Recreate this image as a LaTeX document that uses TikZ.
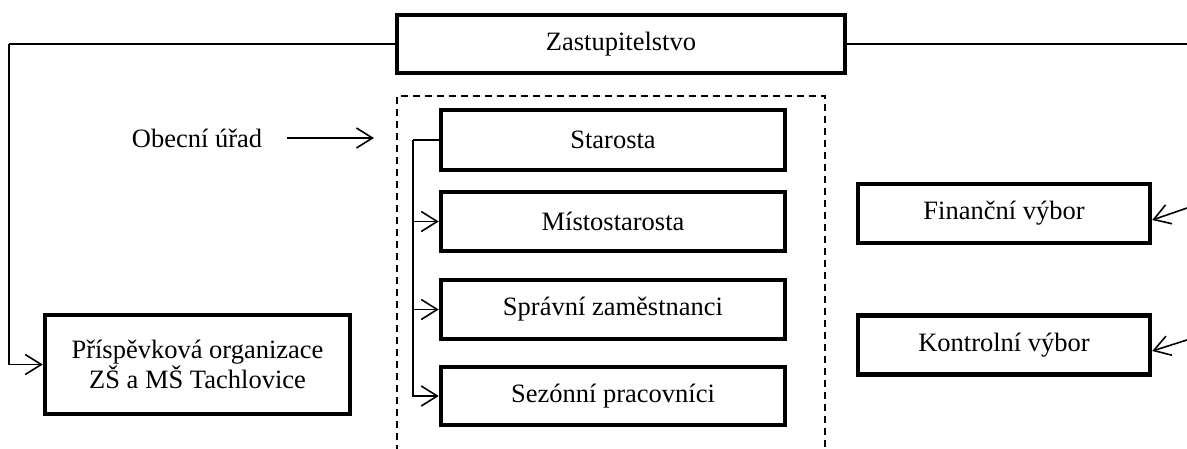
\documentclass[tikz,border=0pt]{standalone}
\usepackage{fontspec}
\setmainfont{Liberation Serif}
\usetikzlibrary{arrows.meta}
\begin{document}
\begin{tikzpicture}[x=1pt,y=-1pt,
  box/.style={draw,line width=4.5pt,rectangle,inner sep=0pt,align=center,font=\fontsize{26.5}{30}\selectfont},
  conn/.style={line width=1.6pt},
  arr/.style={conn,-{Straight Barb[length=16pt,width=20pt,line width=1.6pt]}},
  lbl/.style={font=\fontsize{26.5}{30}\selectfont,inner sep=0pt}]
\useasboundingbox (0,0) rectangle (1187,448);
% dashed frame of the municipal office
\draw[line width=2pt,dash pattern=on 7pt off 5pt] (397,452) -- (397,96) -- (825,96) -- (825,452);
\node[box,minimum width=448pt,minimum height=58pt] (zast) at (621,44) {Zastupitelstvo};
\node[box,minimum width=344pt,minimum height=60pt] (staro) at (613,140) {Starosta};
\node[box,minimum width=344pt,minimum height=59pt] (misto) at (613,221.5) {Místostarosta};
\node[box,minimum width=344pt,minimum height=59pt] (sprav) at (613,309.5) {Správní zaměstnanci};
\node[box,minimum width=344pt,minimum height=58pt] (sezon) at (613,396) {Sezónní pracovníci};
\node[box,minimum width=305pt,minimum height=99pt] (prisp) at (197.5,364.5) {Příspěvková organizace\\ZŠ a MŠ Tachlovice};
\node[box,minimum width=292pt,minimum height=59pt] (fin) at (1004,213.5) {Finanční výbor};
\node[box,minimum width=292pt,minimum height=59pt] (kon) at (1004,345) {Kontrolní výbor};
\node[lbl] (urad) at (197,138) {Obecní úřad};
\coordinate (L) at (9,44);
\coordinate (R) at (1190,44);
\coordinate (rf) at (1190,207);
\coordinate (rk) at (1190,339);
\coordinate (ua) at (287,138);
\coordinate (ub) at (374,138);
\coordinate (bus) at (413,140);
% connectors
\draw[conn] (zast.west) -- (L);
\draw[arr] (L) |- (prisp.west);
\draw[conn] (zast.east) -- (R);
\draw[arr] (rf) -- ([yshift=-6.5pt]fin.east);
\draw[arr] (rk) -- ([yshift=-6pt]kon.east);
\draw[arr] (ua) -- (ub);
\draw[conn] (staro.west) -- (bus);
\draw[arr] (bus) |- (misto.west);
\draw[arr] (bus) |- (sprav.west);
\draw[arr] (bus) |- (sezon.west);
\end{tikzpicture}
\end{document}
